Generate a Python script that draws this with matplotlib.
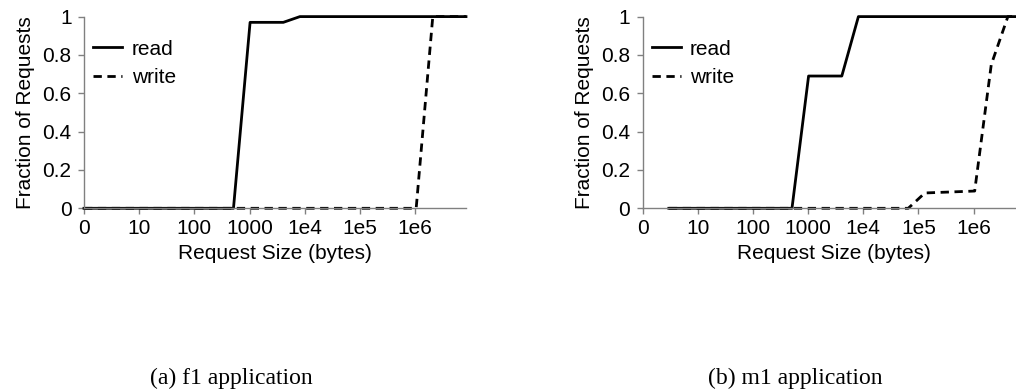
import matplotlib
matplotlib.use("Agg")
import matplotlib.pyplot as plt

# request-size CDFs (x in bytes, y = fraction of requests)
f1_read_x = [1, 512, 1024, 4096, 8192, 8388608]
f1_read_y = [0, 0, 0.97, 0.97, 1, 1]
f1_write_x = [1, 1048576, 2097152, 8388608]
f1_write_y = [0, 0, 1, 1]

m1_read_x = [3, 512, 1024, 4096, 8192, 8388608]
m1_read_y = [0, 0, 0.69, 0.69, 1, 1]
m1_write_x = [3, 65536, 131072, 1048576, 2097152, 4194304, 8388608]
m1_write_y = [0, 0, 0.08, 0.09, 0.75, 1, 1]

xticks = [1, 10, 100, 1000, 1e4, 1e5, 1e6]
xticklabels = ["0", "10", "100", "1000", "1e4", "1e5", "1e6"]
yticks = [0, 0.2, 0.4, 0.6, 0.8, 1]
yticklabels = ["0", "0.2", "0.4", "0.6", "0.8", "1"]
captions = ["(a) f1 application", "(b) m1 application"]

plt.rcParams["font.family"] = ["Liberation Sans", "DejaVu Sans"]
plt.rcParams["font.size"] = 15

fig = plt.figure(figsize=(10.16, 3.9), dpi=100)
W, H = 1016, 390
panels = [
    (84, 231, f1_read_x, f1_read_y, f1_write_x, f1_write_y),
    (642.5, 795, m1_read_x, m1_read_y, m1_write_x, m1_write_y),
]

for i, (x0, cx, rx, ry, wx, wy) in enumerate(panels):
    ax = fig.add_axes([x0 / W, 1 - 208.3 / H, 382 / W, 191.7 / H])
    ax.plot(rx, ry, color="black", lw=2, label="read", clip_on=False)
    ax.plot(wx, wy, color="black", lw=2, ls=(0, (3, 2)), label="write", clip_on=False)
    ax.set_xscale("log")
    ax.set_xlim(1, 8388608)
    ax.set_ylim(0, 1)
    ax.set_xticks(xticks)
    ax.set_xticklabels(xticklabels)
    ax.minorticks_off()
    ax.set_yticks(yticks)
    ax.set_yticklabels(yticklabels)
    for s in ["top", "right"]:
        ax.spines[s].set_visible(False)
    for s in ["left", "bottom"]:
        ax.spines[s].set_color("#808080")
        ax.spines[s].set_linewidth(1)
    ax.tick_params(colors="#808080", labelcolor="black", length=4.5, width=1)
    ax.tick_params(axis="x", pad=3.5)
    ax.tick_params(axis="y", pad=4.5)
    ax.set_xlabel("Request Size (bytes)", labelpad=4)
    ax.set_ylabel("Fraction of Requests", labelpad=5)
    ax.legend(loc="upper left", bbox_to_anchor=(9 / 382, 0.88), frameon=False,
              handlelength=1.4, handletextpad=0.45, labelspacing=0.45,
              borderpad=0, borderaxespad=0)
    fig.text(cx / W, 1 - 378 / H, captions[i], ha="center", va="center",
             family="Liberation Serif", fontsize=17)

fig.savefig("out.png", dpi=100)
